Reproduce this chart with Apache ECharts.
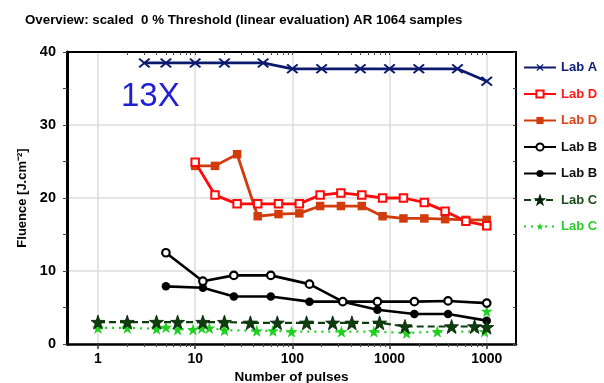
<!DOCTYPE html>
<html>
<head>
<meta charset="utf-8">
<script src="https://cdn.jsdelivr.net/npm/echarts@6/dist/echarts.min.js"></script>
<style>html,body{margin:0;padding:0;background:#fff;}#chart{width:604px;height:383px;}</style>
</head>
<body>
<div id="chart"></div>
<script>
// ---- data ----
const titleText = 'Overview: scaled  0 % Threshold (linear evaluation) AR 1064 samples';
const xMajorTicks = [1, 10, 100, 1000, 10000];
const xTickLabels = ['1', '10', '100', '1000', '1000'];
const yTicks = [0, 10, 20, 30, 40];

const labA_x = [3, 5, 10, 20, 50, 100, 200, 500, 1000, 2000, 5000, 10000];
const labA_y = [38.5, 38.5, 38.5, 38.5, 38.5, 37.7, 37.7, 37.7, 37.7, 37.7, 37.7, 36.0];

const labD_x = [10, 16, 27, 44, 72, 118, 193, 316, 518, 848, 1390, 2280, 3730, 6100, 10000];
const labDOpen_y = [24.9, 20.4, 19.2, 19.2, 19.2, 19.2, 20.4, 20.7, 20.4, 20.0, 20.0, 19.4, 18.2, 16.8, 16.2];
const labDFilled_y = [24.4, 24.4, 26.0, 17.5, 17.8, 17.9, 18.9, 18.9, 18.9, 17.5, 17.2, 17.2, 17.1, 17.0, 17.0];

const labB_x = [5, 12, 25, 60, 150, 330, 750, 1800, 4000, 10000];
const labBOpen_y = [12.5, 8.6, 9.4, 9.4, 8.2, 5.8, 5.8, 5.8, 5.9, 5.6];
const labBFilled_y = [7.9, 7.7, 6.5, 6.5, 5.8, 5.8, 4.7, 4.1, 4.1, 3.2];

const labCDark_x = [1, 2, 4, 6.6, 12, 20, 37, 70, 140, 260, 410, 790, 1440, 4350, 7500, 10000];
const labCDark_y = [3.0, 3.0, 3.0, 3.0, 3.0, 3.0, 2.9, 2.9, 2.9, 2.9, 2.9, 2.9, 2.4, 2.4, 2.4, 2.3];

const labCLight_x = [1, 2, 4, 5, 6.6, 9.5, 11.7, 14, 20, 43, 63, 98, 320, 690, 1500, 3100, 9500, 10000];
const labCLight_y = [2.2, 2.2, 2.1, 2.3, 2.0, 2.0, 2.2, 2.2, 1.9, 1.8, 1.8, 1.7, 1.7, 1.7, 1.5, 1.7, 1.7, 4.5];

const seriesNames = ['Lab A', 'Lab D', 'Lab D ', 'Lab B', 'Lab B ', 'Lab C', 'Lab C '];
// ---- end data ----

const pair = (xs, ys) => xs.map((x, i) => [x, ys[i]]);
const minorTicks = [];
for (let d = 1; d <= 10000; d *= 10) for (let k = 2; k <= 9; k++) if (d * k < 20000) minorTicks.push(d * k);

const STAR = 'path://M10,0L12.35,6.76L19.51,6.91L13.8,11.24L15.88,18.09L10,14L4.12,18.09L6.2,11.24L0.49,6.91L7.65,6.76Z';
const XMARK = 'path://M0,1.5L1.5,0L6,4.5L10.5,0L12,1.5L7.5,6L12,10.5L10.5,12L6,7.5L1.5,12L0,10.5L4.5,6Z';

const colA = '#0c1a6e', colDo = '#ff0a0a', colDf = '#d23c0c', colB = '#000000', colCd = '#0d3f0d', colCl = '#22d022';
const legendText = ['#10207a', '#ff1a1a', '#d9441c', '#111111', '#111111', '#1b4d1b', '#2ccc2c'];

const XMIN = 0.48, XMAX = 20000;
const font = 'Liberation Sans, Arial, sans-serif';

const chart = echarts.init(document.getElementById('chart'), null, {renderer: 'canvas'});
chart.setOption({
  animation: false,
  backgroundColor: '#fff',
  title: {text: titleText, left: 20, top: 9, textStyle: {fontSize: 13.3, fontWeight: 'bold', color: '#000', fontFamily: font}},
  graphic: [{type: 'text', left: 121, top: 80, style: {text: '13X', fontSize: 33, fill: '#1f1fd6', fontFamily: font}}],
  grid: {left: 67, right: 88, top: 52, bottom: 39, containLabel: false, outerBoundsMode: 'none'},
  legend: {
    orient: 'vertical', left: 518, top: 56, itemWidth: 32, itemHeight: 9, itemGap: 13.5,
    textStyle: {fontSize: 13, fontWeight: 'bold', fontFamily: font},
    data: seriesNames.map((n, i) => ({name: n, textStyle: {color: legendText[i]}}))
  },
  xAxis: [
    {type: 'log', logBase: 10, min: XMIN, max: XMAX, position: 'bottom',
     name: 'Number of pulses', nameLocation: 'middle', nameGap: 26, nameMoveOverlap: false,
     nameTextStyle: {fontSize: 13.5, fontWeight: 'bold', color: '#000', fontFamily: font},
     axisLine: {show: true, onZero: false, lineStyle: {color: '#000', width: 2.5}},
     axisTick: {show: true, customValues: xMajorTicks, length: 5, inside: false, lineStyle: {color: '#333', width: 1.5}},
     axisLabel: {show: true, customValues: xMajorTicks, margin: 8, fontSize: 14, fontWeight: 'bold', color: '#000', fontFamily: font,
       formatter: v => xTickLabels[xMajorTicks.findIndex(t => Math.abs(t - v) < 1e-6 * t)] || ''},
     splitLine: {show: true, lineStyle: {color: '#dcdcdc', width: 1.5}},
     minorTick: {show: false}},
    {type: 'log', logBase: 10, min: XMIN, max: XMAX, position: 'bottom',
     axisLine: {show: false}, axisLabel: {show: false}, splitLine: {show: false},
     axisTick: {show: true, customValues: minorTicks, length: 3, inside: false, lineStyle: {color: '#444', width: 1}}},
    {type: 'log', logBase: 10, min: XMIN, max: XMAX, position: 'top',
     axisLine: {show: true, onZero: false, lineStyle: {color: '#000', width: 2}}, axisLabel: {show: false}, splitLine: {show: false},
     axisTick: {show: true, customValues: minorTicks.concat(xMajorTicks.slice(1)), length: 3, inside: true, lineStyle: {color: '#444', width: 1}}}
  ],
  yAxis: [
    {type: 'value', min: 0, max: 40, interval: 10, position: 'left',
     name: 'Fluence [J.cm\u207B\u00B2]', nameLocation: 'middle', nameGap: 38, nameRotate: 90, nameMoveOverlap: false,
     nameTextStyle: {fontSize: 13, fontWeight: 'bold', color: '#000', fontFamily: font},
     axisLine: {show: true, onZero: false, lineStyle: {color: '#000', width: 3}},
     axisTick: {show: true, length: 4, lineStyle: {color: '#444', width: 1}},
     minorTick: {show: true, splitNumber: 2, length: 4, lineStyle: {color: '#444', width: 1}},
     axisLabel: {fontSize: 14.5, fontWeight: 'bold', color: '#000', margin: 11, fontFamily: font,
       customValues: yTicks},
     splitLine: {show: true, lineStyle: {color: '#dcdcdc', width: 1.5}}},
    {type: 'value', min: 0, max: 40, interval: 10, position: 'right',
     axisLine: {show: true, onZero: false, lineStyle: {color: '#000', width: 2}},
     axisTick: {show: true, inside: true, length: 3, lineStyle: {color: '#444'}},
     minorTick: {show: true, splitNumber: 2, length: 3, lineStyle: {color: '#444'}},
     axisLabel: {show: false}, splitLine: {show: false}}
  ],
  series: [
    {name: seriesNames[0], type: 'line', data: pair(labA_x, labA_y), color: colA,
     symbol: XMARK, symbolSize: [12, 10], lineStyle: {width: 2.8, color: colA}, itemStyle: {color: colA}},
    {name: seriesNames[1], type: 'line', data: pair(labD_x, labDOpen_y), color: colDo, z: 3,
     symbol: 'rect', symbolSize: 7.5, lineStyle: {width: 2.8, color: colDo}, itemStyle: {color: '#fff', borderColor: colDo, borderWidth: 2}},
    {name: seriesNames[2], type: 'line', data: pair(labD_x, labDFilled_y), color: colDf, z: 2,
     symbol: 'rect', symbolSize: 8.5, lineStyle: {width: 2.8, color: colDf}, itemStyle: {color: colDf}},
    {name: seriesNames[3], type: 'line', data: pair(labB_x, labBOpen_y), color: colB, z: 3,
     symbol: 'circle', symbolSize: 7.5, lineStyle: {width: 2.6, color: colB}, itemStyle: {color: '#fff', borderColor: colB, borderWidth: 2.2}},
    {name: seriesNames[4], type: 'line', data: pair(labB_x, labBFilled_y), color: colB, z: 2,
     symbol: 'circle', symbolSize: 8.5, lineStyle: {width: 2.6, color: colB}, itemStyle: {color: colB}},
    {name: seriesNames[5], type: 'line', data: pair(labCDark_x, labCDark_y), color: colCd, z: 3,
     symbol: STAR, symbolSize: 14, lineStyle: {width: 2.2, color: colCd, type: [7, 4]}, itemStyle: {color: colCd, borderColor: '#062006', borderWidth: 0.8}},
    {name: seriesNames[6], type: 'line', data: pair(labCLight_x, labCLight_y), color: colCl, z: 2,
     symbol: STAR, symbolSize: 12, lineStyle: {width: 2.2, color: colCl, type: [2, 5]}, itemStyle: {color: colCl}}
  ]
});
</script>
</body>
</html>
